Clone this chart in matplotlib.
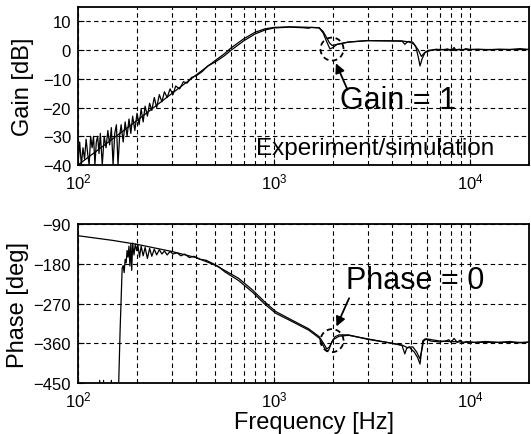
import matplotlib
matplotlib.use("Agg")
import matplotlib.pyplot as plt
import matplotlib.transforms as mtransforms
from matplotlib.patches import Circle
from matplotlib.ticker import LogLocator, NullFormatter, MultipleLocator

plt.rcParams["font.family"] = ["Liberation Sans", "Noto Sans CJK JP", "DejaVu Sans"]
plt.rcParams["mathtext.fontset"] = "custom"
plt.rcParams["mathtext.rm"] = "Liberation Sans"
plt.rcParams["mathtext.it"] = "Liberation Sans:italic"

# ---- gain [dB] ----
gain_sim_f = [100, 200, 300, 400, 500, 560, 600, 700, 800, 900, 1000, 1200, 1400, 1700,
              1780, 1850, 1920, 1980, 2100, 2400, 3000, 4000, 4600, 4900, 5200, 5450,
              5650, 5850, 6100, 7000, 10000, 20000]
gain_sim_db = [-40, -24.5, -15.2, -8.7, -3.7, -1.2, 0.6, 3.9, 6.2, 7.4, 7.9, 8.1, 8.0, 7.8,
               6.5, 4.5, 2.5, 1.6, 2.0, 2.8, 3.3, 3.2, 3.1, 2.8, 2.0, 0.0,
               -2.2, -1.0, -0.1, 0.2, 0.2, 0.2]

gain_exp_f = [100, 102, 104, 106, 108, 110, 112, 114, 116, 118, 120, 122, 124, 126, 128,
              130, 133, 136, 139, 142, 145, 148, 151, 154, 157, 160, 163, 166, 170, 174,
              178, 182, 186, 190, 195, 200, 205, 210, 215, 220, 226, 232, 238, 245, 252,
              260, 268, 276, 285, 295, 305, 315, 330, 345, 360, 380, 400, 430, 460, 500,
              560, 600, 700, 800, 900, 1000, 1200, 1400, 1500, 1550, 1700, 1780, 1850,
              1930, 2000, 2100, 2400, 3000, 4000, 4500, 4650, 4750, 4850, 5100, 5300,
              5450, 5560, 5700, 5900, 6300, 6700, 7300, 7700, 8000, 8300, 8500, 8800,
              9200, 9500, 10000, 11000, 12500, 14000, 16000, 18000, 20000]
gain_exp_db = [-40, -32, -40, -34, -38, -31, -36, -40, -30, -34, -30, -40, -32, -30, -36,
               -29, -40, -30, -34, -28, -33, -27, -40, -29, -26, -40, -30, -26, -32, -25,
               -30, -24, -29, -23, -28, -22, -26, -20.5, -25, -19.5, -23, -18.5, -21, -16.5, -20,
               -15.5, -18, -14.5, -16.5, -13.5, -15.5, -12.5, -13.5, -11, -11.5, -9.5, -9, -7.5, -5.5, -4.2,
               -1.9, -0.2, 3.2, 5.6, 7.0, 7.7, 8.0, 7.8, 7.6, 7.9, 7.7, 6.0, 3.2,
               0.4, 0.9, 2.0, 2.8, 3.3, 3.2, 3.2, 2.0, 2.6, 3.0, 2.8, 1.0,
               -2.5, -5.5, -3.0, -0.8, -0.1, 0.3, 0.1, 0.4, -0.3, 0.9, -0.2, 0.3,
               -0.1, 0.5, 0.2, 0.3, 0.1, 0.3, 0.2, 0.5, 0.2]

# ---- phase [deg] ----
phase_sim_f = [100, 150, 200, 300, 400, 500, 560, 660, 780, 890, 1020, 1240, 1500, 1700,
               1800, 1860, 1920, 2000, 2150, 2400, 3000, 4000, 4500, 4800, 5100, 5350,
               5550, 5700, 5800, 6000, 7000, 10000, 20000]
phase_sim_deg = [-116.5, -127, -136, -152, -166, -183, -195, -213, -240, -265, -288, -308,
                 -327, -345, -362, -373, -368, -352, -344, -342, -350, -360, -364, -370,
                 -368, -380, -395, -372, -355, -350, -355, -358, -358]

phase_exp_f = [100, 120, 127, 129, 131, 133, 135, 137, 145, 148, 151, 158, 164, 168, 170,
               172, 174, 176, 178, 180, 182, 184, 186, 188, 190, 193, 196, 199, 202, 206,
               210, 215, 220, 226, 232, 238, 245, 252, 260, 268, 276, 285, 295, 305, 320,
               335, 350, 370, 390, 420, 450, 480, 520, 560, 660, 780, 890, 1020, 1240,
               1500, 1700, 1780, 1850, 1900, 1960, 2050, 2150, 2400, 3000, 4000, 4500,
               4650, 4750, 4900, 5000, 5200, 5400, 5560, 5650, 5750, 5900, 6300, 7000,
               7500, 7800, 8000, 8300, 8600, 8900, 9200, 9600, 10500, 12000, 14000, 16000,
               18000, 20000]
phase_exp_deg = [-600, -600, -600, -444, -600, -600, -444, -600, -600, -444, -600, -600, -330, -190, -184,
                 -200, -170, -178, -150, -165, -140, -185, -135, -195, -133, -160, -135, -150, -137, -165,
                 -140, -162, -143, -168, -145, -163, -147, -160, -148, -158, -151, -160, -152, -158, -155,
                 -162, -158, -166, -163, -170, -172, -178, -186, -198, -218, -245, -270, -292, -311,
                 -330, -348, -365, -378, -376, -360, -345, -341, -341, -351, -360, -365,
                 -384, -372, -368, -373, -380, -392, -407, -380, -354, -350, -355, -357,
                 -355, -352, -358, -349, -358, -353, -360, -356, -358, -356, -358, -356,
                 -359, -357]

fig = plt.figure(figsize=(5.31, 4.35), dpi=100)
ax1 = fig.add_axes([0.1469, 0.6184, 0.8493, 0.3632])
ax2 = fig.add_axes([0.1469, 0.1172, 0.8493, 0.3655])

for ax in (ax1, ax2):
    ax.set_xscale("log")
    ax.set_xlim(100, 20000)
    ax.xaxis.set_major_locator(LogLocator(base=10))
    ax.xaxis.set_minor_locator(LogLocator(base=10, subs=range(2, 10)))
    ax.xaxis.set_minor_formatter(NullFormatter())
    ax.grid(True, which="both", axis="x", color="k", linestyle=(0, (4, 3)), linewidth=0.8)
    ax.grid(True, which="major", axis="y", color="k", linestyle=(0, (4, 3)), linewidth=0.8)
    ax.tick_params(which="both", direction="in", labelsize=12, pad=5, color="k")
    ax.tick_params(which="major", length=4)
    ax.tick_params(which="minor", length=2)
    for s in ax.spines.values():
        s.set_linewidth(1.3)
    ax.set_axisbelow(True)

# gain
ax1.plot(gain_sim_f, gain_sim_db, color="k", lw=0.9)
ax1.plot(gain_exp_f, gain_exp_db, color="k", lw=0.9)
ax1.set_ylim(-40, 15)
ax1.yaxis.set_major_locator(MultipleLocator(10))
ax1.set_ylabel("Gain [dB]", fontsize=17)
ax1.yaxis.set_label_coords(-0.098, 0.5)

# phase
ax2.plot(phase_sim_f, phase_sim_deg, color="k", lw=0.9)
ax2.plot(phase_exp_f, phase_exp_deg, color="k", lw=0.9)
ax2.set_ylim(-450, -90)
ax2.yaxis.set_major_locator(MultipleLocator(90))
ax2.set_ylabel("Phase [deg]", fontsize=17)
ax2.yaxis.set_label_coords(-0.108, 0.5)
ax2.set_xlabel("Frequency [Hz]", fontsize=17)
ax2.xaxis.set_label_coords(0.523, -0.175)


def dashed_circle(ax, x, y, r_in):
    tr = fig.dpi_scale_trans + mtransforms.ScaledTranslation(x, y, ax.transData)
    ax.add_patch(Circle((0, 0), r_in, transform=tr, fill=False, edgecolor="k",
                        linestyle=(0, (3, 2)), linewidth=1.3, clip_on=False))


dashed_circle(ax1, 1977, 0.35, 0.115)
dashed_circle(ax2, 1977, -354, 0.115)

ax1.annotate("", xy=(2043, -3.7), xytext=(2404, -14.7),
             arrowprops=dict(arrowstyle="-|>", color="k", lw=1.3, mutation_scale=14))
ax1.text(4305, -17.2, "Gain = 1", fontsize=22, ha="center", va="center")
ax1.text(3273, -34.1, "Experiment/simulation", fontsize=17.5, ha="center", va="center")

ax2.annotate("", xy=(2055, -327.7), xytext=(2449, -252.3),
             arrowprops=dict(arrowstyle="-|>", color="k", lw=1.3, mutation_scale=14))
ax2.text(5284, -216.8, "Phase = 0", fontsize=22, ha="center", va="center")

fig.savefig("out.png", dpi=100)
